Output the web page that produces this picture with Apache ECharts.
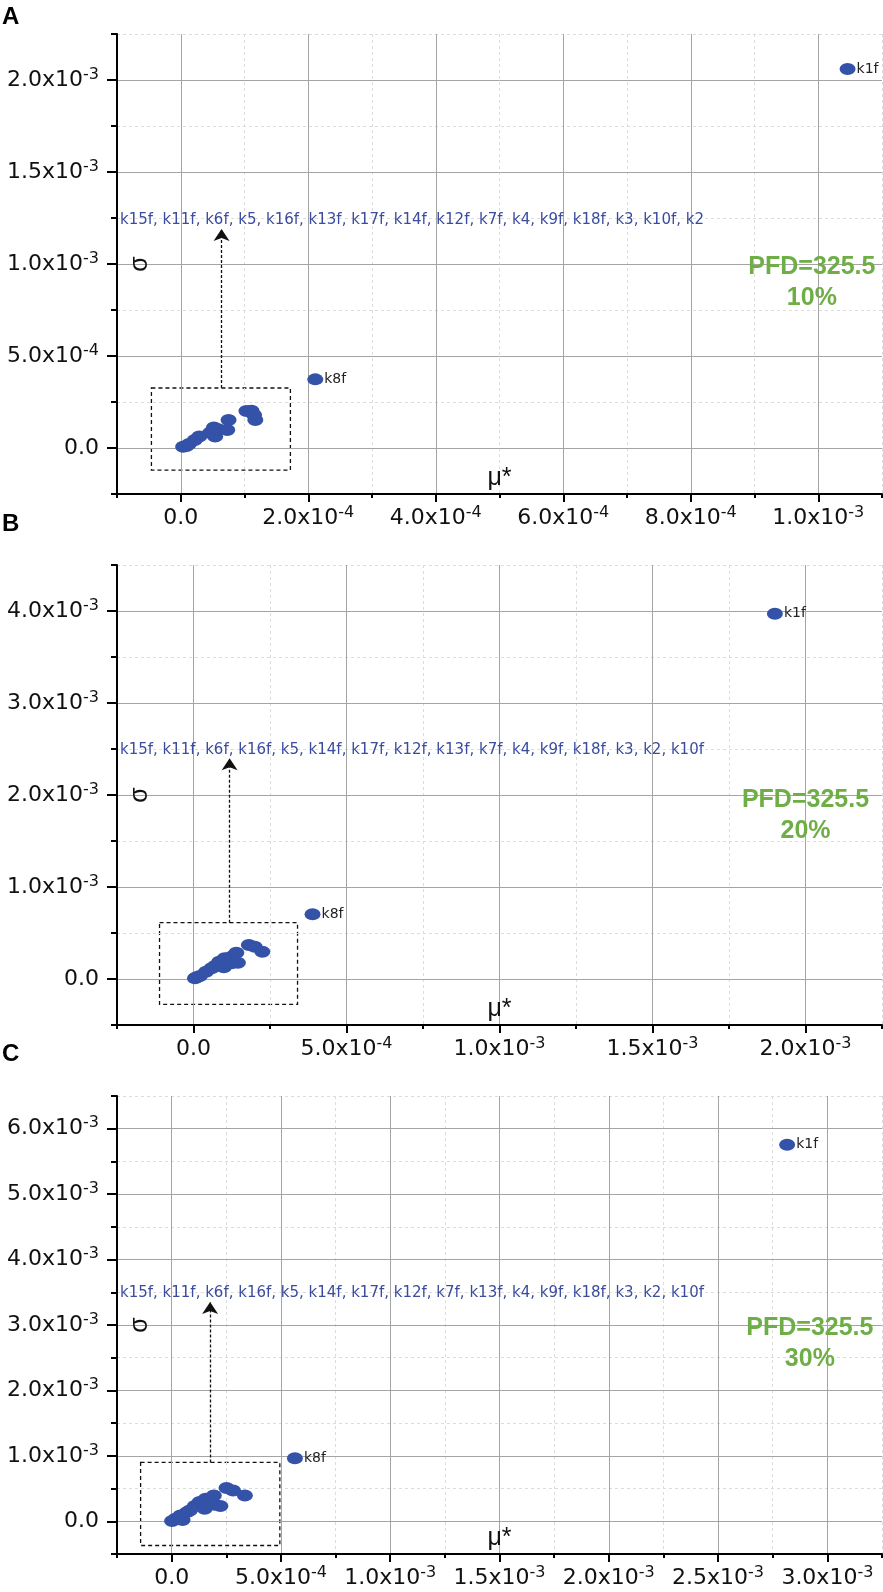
<!DOCTYPE html>
<html>
<head>
<meta charset="utf-8">
<title>Morris screening, PFD=325.5</title>
<script src="https://cdn.jsdelivr.net/npm/echarts@6/dist/echarts.min.js"></script>
<style>
  html, body { margin: 0; padding: 0; background: #fff; }
  #chart { width: 883px; height: 1592px; }
</style>
</head>
<body>
<div id="chart"></div>
<script>
// panel A (10%)
const namesA = ['k15f', 'k11f', 'k6f', 'k5', 'k16f', 'k13f', 'k17f', 'k14f', 'k12f', 'k7f', 'k4', 'k9f', 'k18f', 'k3', 'k10f', 'k2', 'k8f', 'k1f'];
const muA = [3.7e-6, 9e-6, 1.3e-5, 2.2e-5, 2.9e-5, 4.6e-5, 5.0e-5, 5.2e-5, 5.4e-5, 5.9e-5, 7.3e-5, 7.5e-5, 1.03e-4, 1.11e-4, 1.15e-4, 1.17e-4, 2.11e-4, 1.046e-3];
const sigmaA = [7e-6, 1.1e-5, 2.2e-5, 4.3e-5, 6.2e-5, 8.3e-5, 8.9e-5, 1.12e-4, 6.2e-5, 1.02e-4, 9.8e-5, 1.52e-4, 2.01e-4, 2.03e-4, 1.79e-4, 1.52e-4, 3.73e-4, 2.06e-3];
const listA = 'k15f, k11f, k6f, k5, k16f, k13f, k17f, k14f, k12f, k7f, k4, k9f, k18f, k3, k10f, k2';

// panel B (20%)
const namesB = ['k15f', 'k11f', 'k6f', 'k16f', 'k5', 'k14f', 'k17f', 'k12f', 'k13f', 'k7f', 'k4', 'k9f', 'k18f', 'k3', 'k2', 'k10f', 'k8f', 'k1f'];
const muB = [4.9e-6, 1.0e-5, 2.1e-5, 4.1e-5, 5.9e-5, 7.0e-5, 8.4e-5, 9.9e-5, 1.02e-4, 1.24e-4, 1.24e-4, 1.40e-4, 1.45e-4, 1.81e-4, 2.0e-4, 2.25e-4, 3.89e-4, 1.9e-3];
const sigmaB = [7.2e-6, 1.8e-5, 3.3e-5, 7.9e-5, 1.16e-4, 1.41e-4, 1.88e-4, 1.27e-4, 2.25e-4, 2.42e-4, 1.70e-4, 2.86e-4, 1.77e-4, 3.70e-4, 3.51e-4, 2.97e-4, 7.03e-4, 3.97e-3];
const listB = 'k15f, k11f, k6f, k16f, k5, k14f, k17f, k12f, k13f, k7f, k4, k9f, k18f, k3, k2, k10f';

// panel C (30%)
const namesC = ['k15f', 'k11f', 'k6f', 'k16f', 'k5', 'k14f', 'k17f', 'k12f', 'k7f', 'k13f', 'k4', 'k9f', 'k18f', 'k3', 'k2', 'k10f', 'k8f', 'k1f'];
const muC = [2e-6, 1.8e-5, 4.0e-5, 5.0e-5, 7.0e-5, 8.3e-5, 1.06e-4, 1.28e-4, 1.51e-4, 1.56e-4, 1.93e-4, 1.97e-4, 2.23e-4, 2.51e-4, 2.81e-4, 3.35e-4, 5.64e-4, 2.816e-3];
const sigmaC = [3e-6, 3.8e-5, 8.9e-5, 2.0e-5, 1.4e-4, 1.65e-4, 2.32e-4, 2.93e-4, 1.91e-4, 3.44e-4, 3.94e-4, 2.52e-4, 2.32e-4, 5.07e-4, 4.70e-4, 3.94e-4, 9.65e-4, 5.756e-3];
const listC = 'k15f, k11f, k6f, k16f, k5, k14f, k17f, k12f, k7f, k13f, k4, k9f, k18f, k3, k2, k10f';

// axis ticks (major = labelled, minor = small tick + dashed grid)
const xMajorA = [0, 2e-4, 4e-4, 6e-4, 8e-4, 1e-3];
const xMinorA = [-1e-4, 1e-4, 3e-4, 5e-4, 7e-4, 9e-4, 1.1e-3];
const yMajorA = [0, 5e-4, 1e-3, 1.5e-3, 2e-3];
const yMinorA = [-2.5e-4, 2.5e-4, 7.5e-4, 1.25e-3, 1.75e-3, 2.25e-3];

const xMajorB = [0, 5e-4, 1e-3, 1.5e-3, 2e-3];
const xMinorB = [-2.5e-4, 2.5e-4, 7.5e-4, 1.25e-3, 1.75e-3, 2.25e-3];
const yMajorB = [0, 1e-3, 2e-3, 3e-3, 4e-3];
const yMinorB = [-5e-4, 5e-4, 1.5e-3, 2.5e-3, 3.5e-3, 4.5e-3];

const xMajorC = [0, 5e-4, 1e-3, 1.5e-3, 2e-3, 2.5e-3, 3e-3];
const xMinorC = [-2.5e-4, 2.5e-4, 7.5e-4, 1.25e-3, 1.75e-3, 2.25e-3, 2.75e-3, 3.25e-3];
const yMajorC = [0, 1e-3, 2e-3, 3e-3, 4e-3, 5e-3, 6e-3];
const yMinorC = [-5e-4, 5e-4, 1.5e-3, 2.5e-3, 3.5e-3, 4.5e-3, 5.5e-3, 6.5e-3];

const tickFont = 'DejaVu Sans';
const dotColor = '#3352a8';

// 2.0x10^-3 style labels
function sci(v) {
    if (Math.abs(v) < 1e-12) return '0.0';
    const e = Math.floor(Math.log10(Math.abs(v)) + 1e-9);
    const m = (v / Math.pow(10, e)).toFixed(1);
    return m + 'x10{s|' + e + '}';
}

const panels = [
    {
        letter: 'A', pct: '10%', names: namesA, mu: muA, sigma: sigmaA, list: listA,
        grid: { top: 34, height: 460 },
        xRange: [-1e-4, 1.1e-3], xStep: 1e-4, xMajor: xMajorA, xMinor: xMinorA,
        yRange: [-2.5e-4, 2.25e-3], yStep: 2.5e-4, yMajor: yMajorA, yMinor: yMinorA,
        box: [[-4.6e-5, 3.26e-4], [1.72e-4, -1.2e-4]], arrow: [6.4e-5, 3.26e-4, 1.19e-3],
        listY: 1.237e-3, pfd: [0.99e-3, 0.90e-3], titleTop: 5
    },
    {
        letter: 'B', pct: '20%', names: namesB, mu: muB, sigma: sigmaB, list: listB,
        grid: { top: 565, height: 460 },
        xRange: [-2.5e-4, 2.25e-3], xStep: 2.5e-4, xMajor: xMajorB, xMinor: xMinorB,
        yRange: [-5e-4, 4.5e-3], yStep: 5e-4, yMajor: yMajorB, yMinor: yMinorB,
        box: [[-1.11e-4, 6.12e-4], [3.40e-4, -2.75e-4]], arrow: [1.18e-4, 6.12e-4, 2.40e-3],
        listY: 2.49e-3, pfd: [2.0e-3, 1.78e-3], titleTop: 512
    },
    {
        letter: 'C', pct: '30%', names: namesC, mu: muC, sigma: sigmaC, list: listC,
        grid: { top: 1096, height: 459 },
        xRange: [-2.5e-4, 3.25e-3], xStep: 2.5e-4, xMajor: xMajorC, xMinor: xMinorC,
        yRange: [-5e-4, 6.5e-3], yStep: 5e-4, yMajor: yMajorC, yMinor: yMinorC,
        box: [[-1.42e-4, 9.0e-4], [4.95e-4, -3.7e-4]], arrow: [1.76e-4, 9.0e-4, 3.35e-3],
        listY: 3.48e-3, pfd: [2.92e-3, 2.72e-3], titleTop: 1042
    }
];

const labelStyle = {
    color: '#111', fontSize: 22, lineHeight: 27, fontFamily: tickFont, formatter: sci,
    rich: { s: { fontSize: 16, lineHeight: 16, fontFamily: tickFont, color: '#111', verticalAlign: 'top' } }
};

function axisPair(dim, p, i) {
    const isX = dim === 'x';
    const range = isX ? p.xRange : p.yRange;
    const step = isX ? p.xStep : p.yStep;
    const major = isX ? p.xMajor : p.yMajor;
    const minor = isX ? p.xMinor : p.yMinor;
    const main = {
        type: 'value', gridIndex: i, position: isX ? 'bottom' : 'left',
        min: range[0], max: range[1], interval: step,
        axisLine: { show: true, onZero: false, lineStyle: { color: '#000', width: 2 } },
        axisTick: { show: true, length: isX ? 8 : 10, customValues: major, lineStyle: { color: '#000', width: 2 } },
        axisLabel: Object.assign({ customValues: major, margin: isX ? 11 : 18 }, labelStyle),
        splitLine: { show: true, lineStyle: { color: '#a4a4a4', width: 1 } },
        name: isX ? 'μ*' : 'σ', nameLocation: 'middle',
        nameGap: isX ? -28 : -23, nameRotate: isX ? 0 : 90,
        nameTextStyle: { fontSize: 25, fontFamily: 'Liberation Sans', color: '#111', verticalAlign: isX ? 'top' : 'middle' },
        z: 3
    };
    const sub = {
        type: 'value', gridIndex: i, position: isX ? 'bottom' : 'left',
        min: range[0], max: range[1], interval: step,
        axisLine: { show: false, onZero: false },
        axisTick: { show: true, length: isX ? 4 : 6, customValues: minor, lineStyle: { color: '#000', width: 2 } },
        axisLabel: { show: false },
        splitLine: { show: true, lineStyle: { color: '#dcdcdc', width: 1, type: [3, 3] } },
        z: 2
    };
    return [main, sub];
}

const grids = [], xAxes = [], yAxes = [], series = [], titles = [];
panels.forEach((p, i) => {
    grids.push({ left: 117, right: 1, top: p.grid.top, height: p.grid.height });
    xAxes.push(...axisPair('x', p, i));
    yAxes.push(...axisPair('y', p, i));
    titles.push({
        text: p.letter, left: 2, top: p.titleTop, padding: 0,
        textStyle: { fontSize: 24, fontWeight: 'bold', fontFamily: 'Liberation Sans', color: '#000' }
    });
    const tagged = ['k1f', 'k8f'];
    const data = p.names.map((n, k) => ({
        name: n,
        value: [p.mu[k], p.sigma[k]],
        label: { show: tagged.indexOf(n) >= 0 }
    }));
    series.push({
        type: 'scatter', xAxisIndex: 2 * i, yAxisIndex: 2 * i, z: 5,
        symbol: 'circle', symbolSize: [16, 12],
        itemStyle: { color: dotColor, opacity: 1 },
        label: { show: false, position: 'right', distance: 1, formatter: '{b}', color: '#222', fontSize: 14, fontFamily: tickFont },
        data: data,
        markArea: {
            silent: true,
            itemStyle: { color: 'rgba(0,0,0,0)', borderColor: '#111', borderWidth: 1.3, borderType: [4, 3] },
            label: { show: false },
            data: [[{ coord: p.box[0] }, { coord: p.box[1] }]]
        },
        markLine: {
            silent: true, symbol: ['none', 'arrow'], symbolSize: 12,
            label: { show: false },
            lineStyle: { color: '#111', width: 1.3, type: [3, 2] },
            data: [[{ coord: [p.arrow[0], p.arrow[1]] }, { coord: [p.arrow[0], p.arrow[2]] }]]
        },
        markPoint: {
            silent: true, symbol: 'circle', symbolSize: 0,
            data: [
                {
                    coord: [p.xRange[0], p.listY],
                    label: { show: true, position: 'right', distance: 3, formatter: p.list, color: '#3b4c9f', fontSize: 15, fontFamily: tickFont }
                },
                {
                    coord: p.pfd,
                    label: {
                        show: true, position: 'inside', formatter: 'PFD=325.5\n' + p.pct, align: 'center',
                        color: '#6fae47', fontSize: 25, lineHeight: 31, fontWeight: 'bold', fontFamily: 'Liberation Sans'
                    }
                }
            ]
        }
    });
});

const chart = echarts.init(document.getElementById('chart'));
chart.setOption({
    animation: false,
    backgroundColor: '#fff',
    title: titles,
    grid: grids,
    xAxis: xAxes,
    yAxis: yAxes,
    series: series
});
</script>
</body>
</html>
